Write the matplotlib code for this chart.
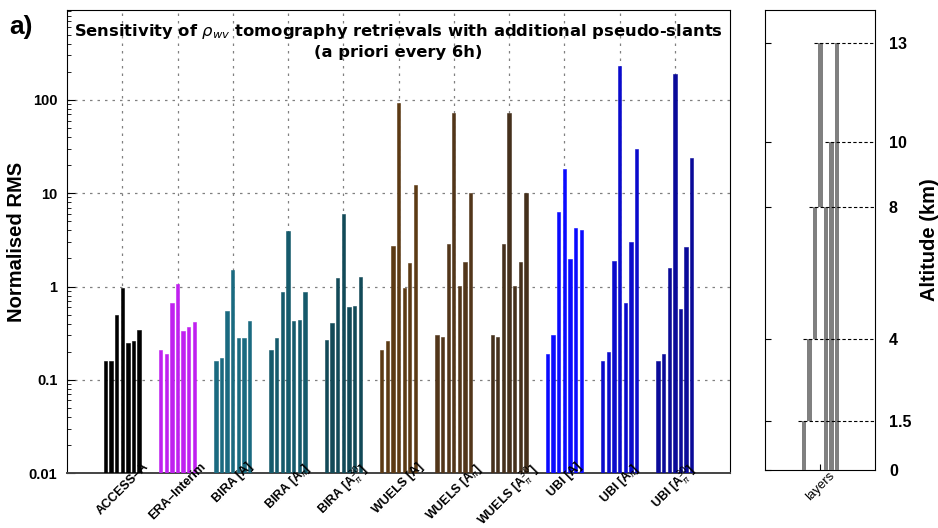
import matplotlib
matplotlib.use('Agg')
import matplotlib.pyplot as plt
import matplotlib.ticker as mticker
import matplotlib.transforms as mtrans
import numpy as np

plt.rcParams['font.family'] = ['Liberation Sans', 'DejaVu Sans']

# --- data -------------------------------------------------------------
groups = ['ACCESS\u2013A', 'ERA\u2013Interim', 'BIRA [A]', r'BIRA [A$_\pi$]',
          r'BIRA [A$_\pi^{30}$]', 'WUELS [A]', r'WUELS [A$_\pi$]',
          r'WUELS [A$_\pi^{30}$]', 'UBI [A]', r'UBI [A$_\pi$]', r'UBI [A$_\pi^{30}$]']

access = [0.16, 0.16, 0.49, 0.97, 0.25, 0.26, 0.34]
era = [0.21, 0.19, 0.67, 1.06, 0.33, 0.37, 0.42]
bira_a = [0.16, 0.17, 0.55, 1.50, 0.28, 0.28, 0.43]
bira_api = [0.21, 0.28, 0.88, 3.9, 0.43, 0.44, 0.87]
bira_api30 = [0.27, 0.41, 1.24, 6.0, 0.60, 0.62, 1.26]
wuels_a = [0.21, 0.26, 2.74, 92.0, 0.96, 1.77, 12.3]
wuels_api = [0.30, 0.29, 2.83, 73.0, 1.02, 1.82, 10.0]
wuels_api30 = [0.30, 0.29, 2.83, 73.0, 1.02, 1.82, 10.0]
ubi_a = [0.19, 0.30, 6.3, 18.0, 1.97, 4.2, 4.0]
ubi_api = [0.16, 0.20, 1.89, 230.0, 0.66, 3.0, 29.6]
ubi_api30 = [0.16, 0.19, 1.58, 189.0, 0.58, 2.63, 23.9]

series = [access, era, bira_a, bira_api, bira_api30, wuels_a, wuels_api,
          wuels_api30, ubi_a, ubi_api, ubi_api30]
colors = ['#000000', '#c020f0', '#1a6a80', '#155a6b', '#124a58',
          '#5c3a14', '#52361a', '#45301c', '#0a0aff', '#0a0acc', '#0a0a99']

# layers panel (altitude in km)
layer_bottom = [0, 1.5, 4, 8, 0, 0, 0]
layer_top = [1.5, 4, 8, 13, 8, 10, 13]
alt_ticks = [0, 1.5, 4, 8, 10, 13]
alt_labels = ['0', '1.5', '4', '8', '10', '13']

# --- figure -----------------------------------------------------------
fig = plt.figure(figsize=(9.38, 5.28), dpi=100)
ax = fig.add_axes([0.0714, 0.104, 0.707, 0.877])
ax2 = fig.add_axes([0.8156, 0.1098, 0.1173, 0.871])

# main panel
step = 0.102
for gi, vals in enumerate(series):
    xc = gi + 1
    xs = xc + (np.arange(len(vals)) - 3) * step
    ax.bar(xs, np.array(vals) - 0.01, bottom=0.01, width=0.06,
           color=colors[gi], linewidth=0.4, edgecolor=colors[gi], zorder=3)

ax.set_yscale('log')
ax.set_ylim(0.01, 920)
ax.set_xlim(0, 12)
ax.set_xticks(np.arange(1, 12))
ax.set_xticklabels([])
ax.tick_params(axis='x', length=0)
ax.yaxis.set_major_locator(mticker.FixedLocator([0.01, 0.1, 1, 10, 100]))
ax.set_yticklabels(['0.01', '0.1', '1', '10', '100'], fontweight='bold', fontsize=10.5)
ax.yaxis.set_minor_locator(mticker.LogLocator(base=10, subs=np.arange(2, 10)))
ax.yaxis.set_minor_formatter(mticker.NullFormatter())
ax.tick_params(axis='y', which='major', direction='in', length=6, pad=7)
ax.tick_params(axis='y', which='minor', direction='in', length=3)
ax.grid(True, which='major', axis='both', color='#808080', linestyle=(0, (2, 4)),
        linewidth=0.9, zorder=1)
ax.spines['bottom'].set_color('#444444')
ax.spines['bottom'].set_linewidth(1.4)
ax.set_ylabel('Normalised RMS', fontsize=14.5, fontweight='bold', labelpad=2)

offs = mtrans.ScaledTranslation(0, 9 / 72, fig.dpi_scale_trans)
for gi, name in enumerate(groups):
    ax.text(gi + 1, 0.0, name, transform=ax.get_xaxis_transform() + offs,
            rotation=45, ha='center', va='top', fontsize=9, fontweight='bold')

ax.text(0.5, 0.975, r'Sensitivity of $\rho_{wv}$ tomography retrievals with additional pseudo-slants',
        transform=ax.transAxes, ha='center', va='top', fontsize=11.8, fontweight='bold',
        family='DejaVu Sans')
ax.text(0.5, 0.925, '(a priori every 6h)', transform=ax.transAxes,
        ha='center', va='top', fontsize=11.8, fontweight='bold', family='DejaVu Sans')
fig.text(0.01, 0.935, 'a)', fontsize=19, fontweight='bold')

# layers panel
lx = 0.352 + np.arange(len(layer_top)) * 0.0505
for i in range(len(layer_top)):
    ax2.bar(lx[i], layer_top[i] - layer_bottom[i], bottom=layer_bottom[i],
            width=0.04, color='#808080', linewidth=0, zorder=3)
for lvl in alt_ticks[1:]:
    ending = [lx[i] for i in range(len(layer_top)) if layer_top[i] == lvl]
    start = min(ending) - 0.055
    ax2.plot([start, 1.0], [lvl, lvl], color='black', linestyle=(0, (3, 2)),
             linewidth=0.8, zorder=4)
ax2.set_xlim(0, 1)
ax2.set_ylim(0, 14)
ax2.set_xticks([0.5])
ax2.set_xticklabels([])
ax2.tick_params(axis='x', direction='in', length=4)
ax2.text(0.5, 0.0, 'layers', transform=ax2.get_xaxis_transform(),
         rotation=45, ha='center', va='top', fontsize=9.5)
ax2.set_yticks(alt_ticks)
ax2.set_yticklabels(alt_labels, fontweight='bold', fontsize=11.5)
ax2.tick_params(axis='y', left=True, right=False, labelleft=False, labelright=True,
                direction='in', length=4, pad=10)
ax2.yaxis.set_label_position('right')
ax2.set_ylabel('Altitude (km)', fontsize=14.5, fontweight='bold', labelpad=6)

fig.savefig('out.png', dpi=100)
